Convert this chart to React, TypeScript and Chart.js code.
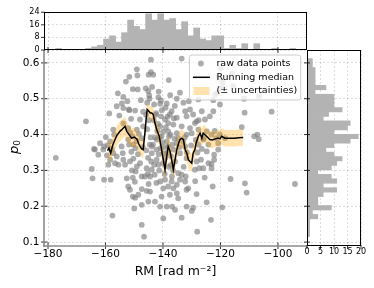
import React, { useEffect, useRef } from "react";
import { Chart, registerables } from "chart.js";

Chart.register(...registerables);

const FONT = '"DejaVu Sans", sans-serif';

// ---------------- data ----------------
const rmValues = [
  -177.3, -166.8, -164.0, -144.2, -149.1, -148.9, -151.7, -152.9, -144.2, -145.0,
  -143.4, -143.8, -146.0, -150.5, -148.8, -145.1, -155.7, -144.8, -153.8, -141.6,
  -140.7, -138.0, -152.4, -147.7, -154.3, -156.1, -141.0, -153.8, -145.5, -143.1,
  -138.7, -149.7, -151.7, -146.9, -158.7, -142.4, -155.2, -151.1, -148.0, -140.7,
  -139.3, -153.8, -157.3, -152.1, -149.1, -146.9, -141.0, -138.2, -159.9, -161.9,
  -160.5, -158.4, -152.1, -150.3, -147.4, -142.2, -140.5, -138.7, -143.9, -154.4,
  -134.1, -135.2, -132.9, -131.0, -127.7, -121.9, -122.5, -120.2, -130.6, -132.3,
  -122.5, -126.5, -123.7, -125.4, -129.5, -128.3, -131.8, -135.2, -137.6, -136.4,
  -133.5, -130.6, -128.9, -127.7, -130.0, -131.8, -135.2, -138.2, -134.7, -124.8,
  -123.1, -126.0, -127.7, -124.2, -120.2, -120.8, -118.4, -121.0, -163.7, -162.5,
  -160.8, -159.5, -159.0, -158.4, -157.3, -156.7, -156.1, -155.5, -154.0, -153.8,
  -153.2, -151.5, -150.3, -149.1, -148.0, -145.7, -143.1, -141.6, -142.2, -143.9,
  -142.2, -139.9, -143.9, -164.5, -160.5, -158.2, -152.6, -150.5, -149.5, -147.4,
  -146.3, -144.5, -152.1, -151.5, -150.5, -149.7, -148.6, -147.4, -144.5, -145.1,
  -147.4, -150.0, -142.8, -141.0, -140.5, -139.9, -141.0, -139.3, -138.2, -157.6,
  -147.4, -146.6, -139.9, -145.7, -164.8, -122.2, -122.2, -123.1, -124.2, -126.0,
  -123.1, -116.5, -111.5, -122.7, -128.3, -124.8, -119.4, -123.3, -128.1, -133.5,
  -130.0, -129.5, -131.8, -137.0, -135.2, -134.1, -132.3, -131.2, -131.8, -136.4,
  -137.6, -135.2, -134.7, -136.8, -135.8, -138.7, -133.5, -134.7, -132.1, -127.4,
  -128.3, -128.9, -124.8, -120.8, -110.9, -94.1, -136.4, -134.1, -131.8, -138.2,
  -132.3, -135.2, -111.8, -106.6, -111.6, -102.2, -112.6, -108.3, -106.7, -133.5,
  -151.8, -151.0, -150.6, -151.4, -150.8, -151.9, -149.6, -148.7, -149.2, -148.4,
  -149.8, -147.0, -145.8, -145.2, -144.6, -144.3, -145.5, -144.9, -145.9, -144.1,
  -145.3, -144.7, -145.0, -143.5, -142.7, -142.0, -143.2, -142.5, -142.9, -142.3,
  -141.5, -140.8, -140.2, -141.2, -140.0, -141.7, -140.4, -141.3, -140.0, -141.5,
  -139.2, -138.5, -139.5, -137.9, -139.0, -138.4, -139.4, -138.0, -139.1, -137.2,
  -136.8, -136.0, -137.4, -136.2, -137.0, -135.9, -137.3, -136.5, -135.8, -136.9,
  -137.5, -134.3, -133.0, -132.4, -131.7, -132.8, -130.2, -128.6, -128.0, -127.6,
  -128.8, -126.5, -125.8, -126.8, -125.5, -121.5, -122.0, -119.5, -120.5, -119.2,
  -120.0, -115.5, -116.0, -157.8, -157.0, -159.2, -107.2,
];
const p0Values = [
  0.335, 0.437, 0.360, 0.609, 0.582, 0.565, 0.561, 0.548, 0.574, 0.567,
  0.567, 0.533, 0.529, 0.527, 0.526, 0.521, 0.515, 0.509, 0.505, 0.504,
  0.495, 0.552, 0.493, 0.496, 0.487, 0.479, 0.486, 0.474, 0.489, 0.484,
  0.487, 0.467, 0.468, 0.464, 0.459, 0.460, 0.453, 0.444, 0.442, 0.451,
  0.442, 0.431, 0.414, 0.418, 0.414, 0.423, 0.423, 0.432, 0.393, 0.376,
  0.367, 0.381, 0.386, 0.372, 0.390, 0.386, 0.395, 0.381, 0.367, 0.367,
  0.517, 0.500, 0.489, 0.493, 0.498, 0.512, 0.496, 0.484, 0.470, 0.465,
  0.465, 0.465, 0.451, 0.442, 0.456, 0.437, 0.451, 0.447, 0.456, 0.428,
  0.423, 0.418, 0.432, 0.414, 0.404, 0.400, 0.404, 0.409, 0.390, 0.409,
  0.400, 0.386, 0.372, 0.372, 0.400, 0.376, 0.390, 0.517, 0.358, 0.344,
  0.358, 0.342, 0.316, 0.330, 0.348, 0.320, 0.339, 0.316, 0.348, 0.330,
  0.316, 0.325, 0.333, 0.311, 0.320, 0.306, 0.316, 0.316, 0.330, 0.348,
  0.358, 0.348, 0.302, 0.278, 0.274, 0.274, 0.278, 0.280, 0.297, 0.283,
  0.283, 0.283, 0.255, 0.246, 0.227, 0.224, 0.232, 0.248, 0.241, 0.213,
  0.204, 0.194, 0.213, 0.199, 0.227, 0.250, 0.269, 0.274, 0.255, 0.174,
  0.148, 0.115, 0.166, 0.243, 0.304, 0.344, 0.330, 0.318, 0.320, 0.306,
  0.306, 0.276, 0.264, 0.255, 0.234, 0.211, 0.197, 0.162, 0.129, 0.168,
  0.187, 0.196, 0.199, 0.269, 0.260, 0.274, 0.269, 0.250, 0.246, 0.250,
  0.232, 0.236, 0.222, 0.199, 0.190, 0.199, 0.288, 0.292, 0.283, 0.306,
  0.325, 0.302, 0.353, 0.358, 0.238, 0.262, 0.358, 0.348, 0.334, 0.367,
  0.367, 0.376, 0.500, 0.507, 0.461, 0.464, 0.421, 0.395, 0.387, 0.612,
  0.372, 0.352, 0.395, 0.405, 0.300, 0.470, 0.362, 0.345, 0.382, 0.402,
  0.268, 0.365, 0.356, 0.335, 0.372, 0.392, 0.415, 0.440, 0.455, 0.325,
  0.290, 0.500, 0.262, 0.372, 0.392, 0.410, 0.440, 0.455, 0.288, 0.265,
  0.345, 0.362, 0.378, 0.392, 0.408, 0.430, 0.468, 0.300, 0.320, 0.520,
  0.335, 0.350, 0.365, 0.395, 0.420, 0.450, 0.290, 0.310, 0.475, 0.340,
  0.372, 0.388, 0.400, 0.445, 0.465, 0.480, 0.315, 0.300, 0.325, 0.283,
  0.510, 0.365, 0.380, 0.392, 0.350, 0.310, 0.370, 0.385, 0.350, 0.440,
  0.270, 0.360, 0.390, 0.330, 0.280, 0.390, 0.410, 0.530, 0.560, 0.545,
  0.585, 0.535, 0.570, 0.360, 0.400, 0.370, 0.400,
];

const medianRM = [
  -159.3, -158.8, -158.2, -157.5, -156.7, -156.0, -155.0, -154.2, -153.2, -152.6,
  -151.8, -150.9, -150.0, -149.1, -148.5, -148.0, -147.4, -146.9, -146.3, -145.9,
  -145.5, -145.0, -144.4, -143.9, -143.4, -142.8, -142.2, -141.3, -140.5, -139.9,
  -139.3, -138.7, -138.2, -137.6, -137.0, -136.4, -135.8, -135.2, -134.6, -134.1,
  -133.5, -132.9, -132.3, -131.7, -131.2, -130.6, -130.0, -129.5, -128.9, -128.5,
  -127.7, -127.1, -126.5, -126.0, -125.2, -124.4, -123.7, -122.8, -121.8, -120.8,
  -120.2, -119.6, -118.5, -117.4, -116.2, -115.0, -113.8, -112.1,
];
const medianP0 = [
  0.355, 0.362, 0.348, 0.370, 0.386, 0.398, 0.409, 0.415, 0.423, 0.409,
  0.400, 0.390, 0.393, 0.388, 0.375, 0.367, 0.360, 0.358, 0.404, 0.440,
  0.470, 0.466, 0.460, 0.460, 0.456, 0.432, 0.414, 0.395, 0.358, 0.330,
  0.302, 0.339, 0.367, 0.355, 0.330, 0.302, 0.330, 0.358, 0.375, 0.386,
  0.390, 0.386, 0.358, 0.348, 0.330, 0.325, 0.320, 0.348, 0.358, 0.376,
  0.395, 0.404, 0.390, 0.404, 0.398, 0.392, 0.386, 0.385, 0.388, 0.390,
  0.388, 0.395, 0.390, 0.390, 0.390, 0.390, 0.391, 0.392,
];
const medianErr = [
  0.025, 0.025, 0.026, 0.026, 0.027, 0.027, 0.028, 0.028, 0.027, 0.027,
  0.026, 0.026, 0.025, 0.025, 0.025, 0.024, 0.024, 0.024, 0.022, 0.020,
  0.018, 0.018, 0.019, 0.020, 0.020, 0.021, 0.022, 0.024, 0.025, 0.026,
  0.027, 0.028, 0.028, 0.027, 0.027, 0.028, 0.028, 0.027, 0.026, 0.025,
  0.025, 0.025, 0.024, 0.024, 0.024, 0.025, 0.025, 0.025, 0.024, 0.024,
  0.024, 0.024, 0.024, 0.024, 0.023, 0.023, 0.023, 0.023, 0.023, 0.023,
  0.023, 0.023, 0.023, 0.023, 0.023, 0.023, 0.023, 0.023,
];

// histogram of RM (top), 40 bins
const topBinStart = -177.4;
const topBinWidth = 2.09;
const topHistCounts = [
  1, 0, 0, 0, 0, 1, 2, 3, 7, 9,
  5, 11, 19, 15, 13, 23, 19, 23, 19, 20,
  13, 18, 9, 14, 7, 6, 9, 9, 1, 3,
  1, 4, 0, 4, 0, 0, 1, 0, 0, 1,
];
// histogram of p0 (right), 40 bins, bottom to top
const rightBinStart = 0.115;
const rightBinWidth = 0.012425;
const rightHistCounts = [
  1, 1, 1, 1, 4, 2, 9, 4, 4, 6,
  11, 6, 11, 9, 4, 9, 11, 13, 10, 7,
  10, 16, 19, 10, 15, 16, 6, 8, 13, 10,
  10, 10, 3, 7, 3, 3, 3, 3, 2, 2,
];

const xTicks = [-180, -160, -140, -120, -100];
const yTicks = [0.1, 0.2, 0.3, 0.4, 0.5, 0.6];
const topYTicks = [0, 8, 16, 24];
const rightXTicks = [0, 5, 10, 15, 20];
const legendLabels = ["raw data points", "Running median", "(\u00b1 uncertainties)"];

const X_MIN = -181.4;
const X_MAX = -89.9;
const Y_MIN = 0.089;
const Y_MAX = 0.636;

const GRID = "rgba(0,0,0,0.17)";
const POINT = "rgba(128,128,128,0.65)";
const BAND = "rgba(255,165,0,0.32)";
const BAR = "#b3b3b3";

// ---------------- helpers ----------------
const fixTicks = (values: number[]) => (scale: any) => {
  scale.ticks = values.map((v) => ({ value: v }));
};
const minus = (v: number) => (v < 0 ? "\u2212" + Math.abs(v) : String(v));

function seg(ctx: CanvasRenderingContext2D, x1: number, y1: number, x2: number, y2: number) {
  ctx.beginPath();
  ctx.moveTo(x1, y1);
  ctx.lineTo(x2, y2);
  ctx.stroke();
}

function frame(ctx: CanvasRenderingContext2D, a: any) {
  ctx.strokeStyle = "#000";
  ctx.lineWidth = 1;
  const l = Math.round(a.left) + 0.5;
  const t = Math.round(a.top) + 0.5;
  const r = Math.round(a.right) - 0.5;
  const b = Math.round(a.bottom) - 0.5;
  ctx.strokeRect(l, t, r - l, b - t);
}

const gridOpts = { color: GRID, lineWidth: 0.8, drawTicks: false, offset: false };
const borderOpts = { display: false, dash: [2, 2] };

export default function App() {
  const mainRef = useRef<HTMLCanvasElement>(null);
  const topRef = useRef<HTMLCanvasElement>(null);
  const rightRef = useRef<HTMLCanvasElement>(null);

  useEffect(() => {
    const charts: Chart[] = [];

    // -------- main scatter --------
    const mainDeco = {
      id: "mainDeco",
      afterDatasetsDraw(chart: any) {
        const { ctx, chartArea: a } = chart;
        ctx.save();
        ctx.font = `9.5px ${FONT}`;
        const tw = Math.max(...legendLabels.map((l) => ctx.measureText(l).width));
        const w = 27 + tw + 3.5;
        const h = 45;
        const right = a.right - 6.3;
        const top = a.top + 5;
        const left = right - w;
        const r = 2.5;
        ctx.beginPath();
        ctx.moveTo(left + r, top);
        ctx.lineTo(left + w - r, top);
        ctx.arcTo(left + w, top, left + w, top + r, r);
        ctx.lineTo(left + w, top + h - r);
        ctx.arcTo(left + w, top + h, left + w - r, top + h, r);
        ctx.lineTo(left + r, top + h);
        ctx.arcTo(left, top + h, left, top + h - r, r);
        ctx.lineTo(left, top + r);
        ctx.arcTo(left, top, left + r, top, r);
        ctx.closePath();
        ctx.fillStyle = "rgba(255,255,255,0.8)";
        ctx.fill();
        ctx.strokeStyle = "#cccccc";
        ctx.lineWidth = 1;
        ctx.stroke();
        const rows = [top + 8.5, top + 22.3, top + 36];
        // marker
        ctx.fillStyle = POINT;
        ctx.beginPath();
        ctx.arc(left + 11.5, rows[0], 2.9, 0, Math.PI * 2);
        ctx.fill();
        // line
        ctx.strokeStyle = "#000";
        ctx.lineWidth = 1.5;
        seg(ctx, left + 3.5, rows[1], left + 20.5, rows[1]);
        // band
        ctx.fillStyle = BAND;
        ctx.fillRect(left + 4, rows[2] - 4, 16, 8);
        ctx.fillStyle = "#000";
        ctx.textBaseline = "middle";
        ctx.textAlign = "left";
        legendLabels.forEach((l, i) => ctx.fillText(l, left + 27, rows[i]));
        ctx.restore();
      },
      afterDraw(chart: any) {
        const { ctx, chartArea: a, scales } = chart;
        ctx.save();
        ctx.strokeStyle = "#000";
        ctx.lineWidth = 0.8;
        for (const v of xTicks) {
          const px = scales.x.getPixelForValue(v);
          seg(ctx, px, a.bottom - 3.5, px, a.bottom + 3);
        }
        for (const v of yTicks) {
          const py = scales.y.getPixelForValue(v);
          seg(ctx, a.left - 3, py, a.left + 3.5, py);
        }
        ctx.strokeStyle = "#8a8a8a";
        ctx.lineWidth = 1.6;
        seg(ctx, a.left, a.top, a.left, a.bottom + 0.8);
        seg(ctx, a.left - 0.8, a.bottom, a.right, a.bottom);
        // y title: p_0
        ctx.fillStyle = "#000";
        ctx.translate(17.5, 147);
        ctx.rotate(-Math.PI / 2);
        ctx.textBaseline = "alphabetic";
        ctx.textAlign = "left";
        ctx.font = `italic 13px ${FONT}`;
        const wp = ctx.measureText("p").width;
        ctx.font = `9px ${FONT}`;
        const w0 = ctx.measureText("0").width;
        const x0 = -(wp + w0) / 2;
        ctx.font = `italic 13px ${FONT}`;
        ctx.fillText("p", x0, 0);
        ctx.font = `9px ${FONT}`;
        ctx.fillText("0", x0 + wp, 2.5);
        ctx.restore();
      },
    };

    charts.push(
      new Chart(mainRef.current!, {
        type: "scatter",
        data: {
          datasets: [
            {
              type: "line",
              label: "Running median",
              data: medianRM.map((x, i) => ({ x, y: medianP0[i] })),
              borderColor: "#000",
              borderWidth: 1.5,
              pointRadius: 0,
              showLine: true,
              fill: false,
              tension: 0,
            } as any,
            {
              type: "line",
              label: "upper",
              data: medianRM.map((x, i) => ({ x, y: medianP0[i] + medianErr[i] })),
              borderColor: "transparent",
              borderWidth: 0,
              pointRadius: 0,
              showLine: true,
              fill: "+1",
              backgroundColor: BAND,
              tension: 0,
            } as any,
            {
              type: "line",
              label: "lower",
              data: medianRM.map((x, i) => ({ x, y: medianP0[i] - medianErr[i] })),
              borderColor: "transparent",
              borderWidth: 0,
              pointRadius: 0,
              showLine: true,
              fill: false,
              tension: 0,
            } as any,
            {
              type: "scatter",
              label: "raw data points",
              data: rmValues.map((x, i) => ({ x, y: p0Values[i] })),
              pointRadius: 2.9,
              pointBackgroundColor: POINT,
              pointBorderWidth: 0,
              borderWidth: 0,
            } as any,
          ],
        },
        options: {
          animation: false,
          responsive: false,
          maintainAspectRatio: false,
          devicePixelRatio: 1,
          layout: { padding: { left: 0, top: 50, right: 67, bottom: 0 } },
          plugins: { legend: { display: false }, tooltip: { enabled: false } },
          scales: {
            x: {
              type: "linear",
              position: "bottom",
              min: X_MIN,
              max: X_MAX,
              afterBuildTicks: fixTicks(xTicks),
              afterFit: (s: any) => {
                s.height = 42;
              },
              ticks: {
                callback: (v: any) => minus(Number(v)),
                font: { family: FONT, size: 10.5 },
                color: "#000",
                padding: 2,
                maxRotation: 0,
                autoSkip: false,
              },
              grid: gridOpts,
              border: borderOpts,
              title: {
                display: true,
                text: "RM [rad m\u207b\u00b2]",
                font: { family: FONT, size: 12.5 },
                color: "#000",
                padding: { top: 0, bottom: 8.5 },
              },
            },
            y: {
              type: "linear",
              position: "left",
              min: Y_MIN,
              max: Y_MAX,
              afterBuildTicks: fixTicks(yTicks),
              afterFit: (s: any) => {
                s.width = 44;
              },
              ticks: {
                callback: (v: any) => Number(v).toFixed(1),
                font: { family: FONT, size: 10.5 },
                color: "#000",
                padding: 4.5,
                autoSkip: false,
              },
              grid: gridOpts,
              border: borderOpts,
            },
          },
        } as any,
        plugins: [mainDeco],
      })
    );

    // -------- right histogram --------
    const rightDeco = {
      id: "rightDeco",
      afterDraw(chart: any) {
        const { ctx, chartArea: a, scales } = chart;
        ctx.save();
        frame(ctx, a);
        ctx.lineWidth = 0.8;
        for (const v of yTicks) {
          const py = scales.y.getPixelForValue(v);
          seg(ctx, a.left - 3, py, a.left + 3, py);
        }
        for (const v of rightXTicks) {
          const px = scales.x.getPixelForValue(v);
          seg(ctx, px, a.bottom - 1, px, a.bottom + 3);
        }
        ctx.restore();
      },
    };
    charts.push(
      new Chart(rightRef.current!, {
        type: "bar",
        data: {
          datasets: [
            {
              data: rightHistCounts.map((c, i) => ({
                y: rightBinStart + rightBinWidth * (i + 0.5),
                x: c,
              })),
              backgroundColor: BAR,
              borderWidth: 0,
              barPercentage: 1,
              categoryPercentage: 1,
            } as any,
          ],
        },
        options: {
          indexAxis: "y",
          animation: false,
          responsive: false,
          maintainAspectRatio: false,
          devicePixelRatio: 1,
          layout: { padding: { left: 307, top: 50, right: 13, bottom: 0 } },
          plugins: { legend: { display: false }, tooltip: { enabled: false } },
          scales: {
            x: {
              type: "linear",
              position: "bottom",
              min: 0,
              max: 20,
              afterBuildTicks: fixTicks(rightXTicks),
              afterFit: (s: any) => {
                s.height = 42;
              },
              ticks: {
                font: { family: FONT, size: 8 },
                color: "#000",
                padding: 1.5,
                maxRotation: 0,
                autoSkip: false,
              },
              grid: gridOpts,
              border: borderOpts,
            },
            y: {
              type: "linear",
              position: "left",
              min: Y_MIN,
              max: Y_MAX,
              offset: false,
              afterBuildTicks: fixTicks(yTicks),
              afterFit: (s: any) => {
                s.width = 0;
              },
              ticks: { display: false },
              grid: gridOpts,
              border: borderOpts,
            },
          },
        } as any,
        plugins: [rightDeco],
      })
    );

    // -------- top histogram --------
    const topDeco = {
      id: "topDeco",
      afterDraw(chart: any) {
        const { ctx, chartArea: a, scales } = chart;
        ctx.save();
        frame(ctx, a);
        ctx.lineWidth = 0.8;
        for (const v of xTicks) {
          const px = scales.x.getPixelForValue(v);
          seg(ctx, px, a.bottom - 3, px, a.bottom + 3);
        }
        for (const v of topYTicks) {
          const py = scales.y.getPixelForValue(v);
          seg(ctx, a.left - 3, py, a.left + 1, py);
        }
        ctx.restore();
      },
    };
    charts.push(
      new Chart(topRef.current!, {
        type: "bar",
        data: {
          datasets: [
            {
              data: topHistCounts.map((c, i) => ({
                x: topBinStart + topBinWidth * (i + 0.5),
                y: c,
              })),
              backgroundColor: BAR,
              borderWidth: 0,
              barPercentage: 1,
              categoryPercentage: 1,
            } as any,
          ],
        },
        options: {
          animation: false,
          responsive: false,
          maintainAspectRatio: false,
          devicePixelRatio: 1,
          layout: { padding: { left: 0, top: 12, right: 67, bottom: 10 } },
          plugins: { legend: { display: false }, tooltip: { enabled: false } },
          scales: {
            x: {
              type: "linear",
              position: "bottom",
              min: X_MIN,
              max: X_MAX,
              offset: false,
              afterBuildTicks: fixTicks(xTicks),
              afterFit: (s: any) => {
                s.height = 0;
              },
              ticks: { display: false },
              grid: gridOpts,
              border: borderOpts,
            },
            y: {
              type: "linear",
              position: "left",
              min: 0,
              max: 24.15,
              afterBuildTicks: fixTicks(topYTicks),
              afterFit: (s: any) => {
                s.width = 44;
              },
              ticks: {
                font: { family: FONT, size: 8 },
                color: "#000",
                padding: 4.5,
                autoSkip: false,
              },
              grid: gridOpts,
              border: borderOpts,
            },
          },
        } as any,
        plugins: [topDeco],
      })
    );

    return () => charts.forEach((c) => c.destroy());
  }, []);

  const cs = (h: number): React.CSSProperties => ({
    position: "absolute",
    left: 0,
    top: 0,
    width: 374,
    height: h,
  });

  return (
    <div
      style={{
        position: "fixed",
        left: 0,
        top: 0,
        width: 374,
        height: 288,
        background: "#fff",
        overflow: "hidden",
      }}
    >
      <canvas ref={mainRef} width={374} height={288} style={cs(288)} />
      <canvas ref={rightRef} width={374} height={288} style={cs(288)} />
      <canvas ref={topRef} width={374} height={60} style={cs(60)} />
    </div>
  );
}
